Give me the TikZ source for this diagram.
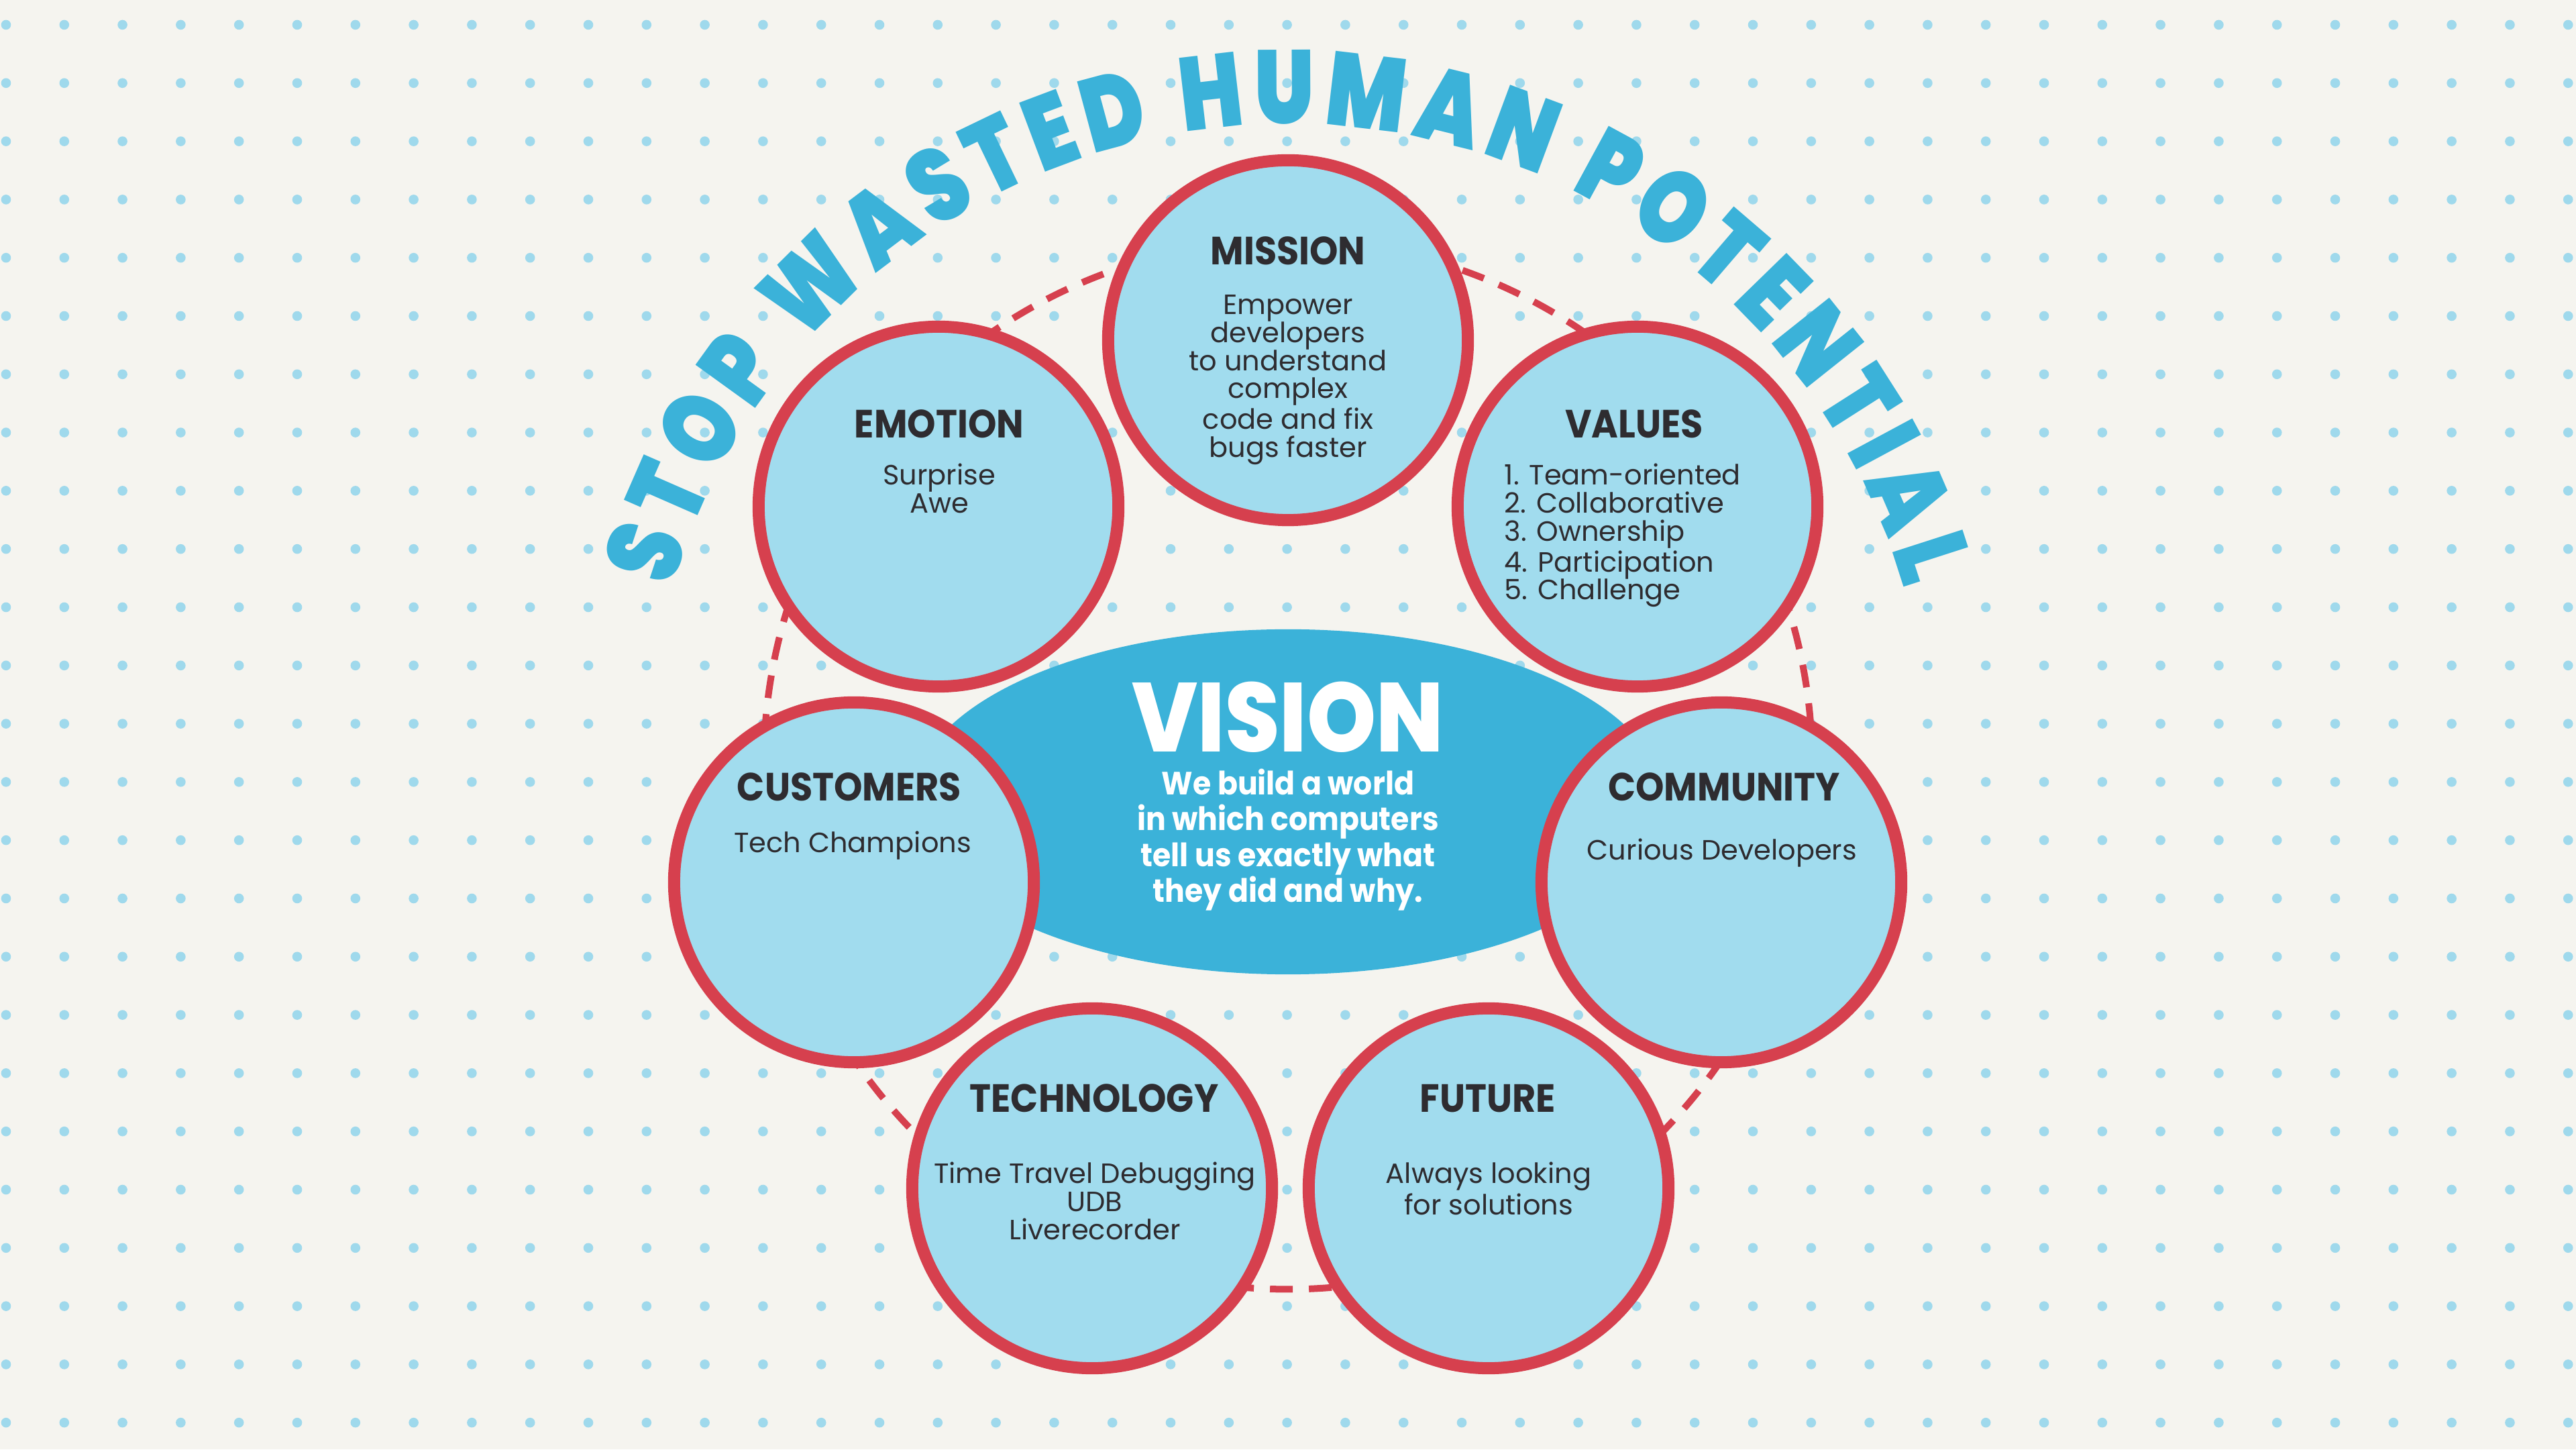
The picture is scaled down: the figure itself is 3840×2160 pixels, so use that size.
\documentclass[tikz,border=0pt]{standalone}
\usepackage{fontspec}
\setmainfont{Poppins}
\newfontfamily\headfont{Poppins}[FakeStretch=0.92]
\newfontfamily\visfont{Poppins ExtraBold}[FakeStretch=0.9]
\newfontfamily\arcfont{Poppins Black}[FakeStretch=0.8]
\usetikzlibrary{shapes.geometric,decorations.text}
\definecolor{bgc}{HTML}{F5F4EF}
\definecolor{dotc}{HTML}{9FD9EC}
\definecolor{fillc}{HTML}{A1DCEE}
\definecolor{redc}{HTML}{D6404E}
\definecolor{bluec}{HTML}{3BB2D9}
\definecolor{inkc}{HTML}{2E2C30}
\newcommand\topstrutx{\rule{0pt}{0.8em}}
\begin{document}
\begin{tikzpicture}[x=0.01cm,y=0.01cm,
  bubble/.style={circle, draw=redc, fill=fillc, line width=0.18cm, minimum size=5.36cm, inner sep=0pt},
  head/.style={font=\headfont\bfseries\fontsize{16.7}{18}\selectfont, text=inkc, anchor=base, inner sep=0pt},
  body/.style={font=\fontsize{11.81}{11.84}\selectfont, text=inkc, align=center, anchor=north, inner sep=0pt},
  orbitstyle/.style={circle, draw=redc, line width=0.1cm, dash pattern=on 0.34cm off 0.24cm, minimum size=15.62cm, inner sep=0pt}]
\fill[bgc] (0,0) rectangle (3840,2160);
\useasboundingbox (0,0) rectangle (3840,2160);
\foreach \i in {0,...,44}{\foreach \j in {0,...,24}{\fill[dotc] ({9+\i*86.8},{2123-\j*86.8}) circle[radius=7.3];}}
% dashed ring
\node[orbitstyle] (orbit) at (1920,1020) {};
% vision ellipse
\node[ellipse, fill=bluec, minimum width=11.2cm, minimum height=5.14cm, inner sep=0pt] (vision) at (1920,965) {};
% bubbles
\node[bubble] (mission) at (1920,1653) {};
\node[bubble] (emotion) at (1399,1405) {};
\node[bubble] (values) at (2441,1405) {};
\node[bubble] (customers) at (1273,845) {};
\node[bubble] (community) at (2566,845) {};
\node[bubble] (technology) at (1628,389) {};
\node[bubble] (future) at (2219,389) {};
% headings
\node[head] (mission-h) at (1920,1765) {MISSION};
\node[head] (emotion-h) at (1400,1507) {EMOTION};
\node[head] (values-h) at (2436,1507) {VALUES};
\node[head] (customers-h) at (1266,966) {CUSTOMERS};
\node[head] (community-h) at (2570,966) {COMMUNITY};
\node[head] (technology-h) at (1631,503) {TECHNOLOGY};
\node[head] (future-h) at (2218,503) {FUTURE};
% bodies
\node[body] (mission-t) at (1920,1725) {\topstrutx Empower\\developers\\to understand\\complex\\code and fix\\bugs faster};
\node[body] (emotion-t) at (1400,1471) {\topstrutx Surprise\\Awe};
\node[body, align=left, anchor=north west] (values-t) at (2242,1471) {\topstrutx 1. Team-oriented\\2. Collaborative\\3. Ownership\\4. Participation\\5. Challenge};
\node[body] (customers-t) at (1271,923) {\topstrutx Tech Champions};
\node[body] (community-t) at (2567,912) {\topstrutx Curious Developers};
\node[body] (technology-t) at (1632,430) {\topstrutx Time Travel Debugging\\UDB\\Liverecorder};
\node[body] (future-t) at (2219,430) {\topstrutx Always looking\\for solutions};
% vision text
\node[font=\visfont\fontsize{41.5}{42}\selectfont, text=white, anchor=base, inner sep=0pt] (vision-h) at (1920,1039) {VISION};
\node[font=\headfont\bfseries\fontsize{13.66}{15.22}\selectfont, text=white, align=center, anchor=north, inner sep=0pt] (vision-t) at (1920,1015) {\topstrutx We build a world\\in which computers\\tell us exactly what\\they did and why.};
% arc title
\path[decorate, decoration={text along path, text align=fit to path, text color=bluec,
  text={|\arcfont\fontsize{44.1}{44}\selectfont|STOP WASTED HUMAN POTENTIAL}}]
  ([shift={(1920,1020)}]164:955) arc[start angle=164, end angle=16, radius=955];
\end{tikzpicture}
\end{document}
